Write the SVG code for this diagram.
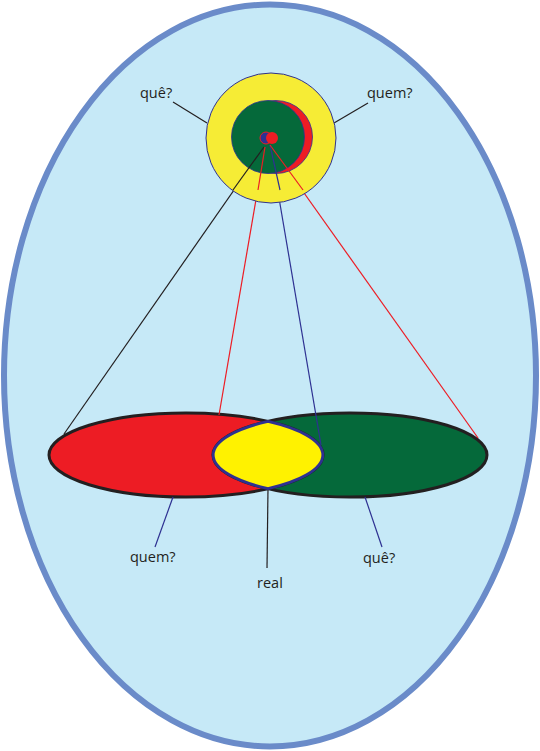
<svg xmlns="http://www.w3.org/2000/svg" width="540" height="751" viewBox="0 0 540 751">
<style>
.lbl{font-family:"Open Sans","Liberation Sans",sans-serif;font-size:14.5px;fill:#231f20}
.k{stroke:#231f20;stroke-width:1.2;fill:none}
.r{stroke:#ed1c24;stroke-width:1.2;fill:none}
.b{stroke:#2e3192;stroke-width:1.2;fill:none}
</style>
<rect width="540" height="751" fill="#ffffff"/>
<g id="background">
<ellipse cx="270" cy="375.5" rx="266" ry="371" fill="#c6e9f7" stroke="#6a8bc9" stroke-width="6"/>
</g>
<g id="venn">
<ellipse cx="186" cy="455" rx="137" ry="42" fill="#ed1c24"/>
<ellipse cx="350" cy="455" rx="137" ry="42" fill="#05693a"/>
<ellipse cx="186" cy="455" rx="137" ry="42" fill="none" stroke="#231f20" stroke-width="3"/>
<ellipse cx="350" cy="455" rx="137" ry="42" fill="none" stroke="#231f20" stroke-width="3"/>
</g>
<g id="connectors">
<line class="k" x1="173" y1="102" x2="207" y2="123"/>
<line class="k" x1="368" y1="103" x2="334" y2="123"/>
<line class="k" x1="264" y1="147" x2="64" y2="434"/>
<line class="r" x1="265" y1="147" x2="219" y2="415"/>
<line class="b" x1="270" y1="145" x2="321" y2="445"/>
<line class="r" x1="270" y1="145" x2="478" y2="438"/>
<line class="b" x1="173" y1="497" x2="155" y2="547"/>
<line class="k" x1="268" y1="488" x2="267" y2="568"/>
<line class="b" x1="365" y1="497" x2="382" y2="547"/>
</g>
<g id="top-circle">
<circle cx="271" cy="138" r="65" fill="#f6ec35" stroke="#2e3192" stroke-width="1"/>
<circle cx="276" cy="137" r="36.5" fill="#ed1c24" stroke="#2e3192" stroke-width="0.8"/>
<circle cx="268" cy="137" r="36.5" fill="#05693a" stroke="#2e3192" stroke-width="0.8"/>
<circle cx="266" cy="138" r="6" fill="#2e3192" stroke="#ed1c24" stroke-width="1"/>
<circle cx="272" cy="138" r="6" fill="#ed1c24"/>
<line class="k" x1="264" y1="147" x2="233" y2="190"/>
<line class="r" x1="265" y1="147" x2="258" y2="190"/>
<line class="b" x1="270" y1="145" x2="280" y2="190"/>
<line class="r" x1="270" y1="145" x2="303" y2="190"/>
</g>
<g id="lens">
<path d="M268 421.4 A137 42 0 0 1 268 488.6 A137 42 0 0 1 268 421.4 Z" fill="#fff200" stroke="#2e3192" stroke-width="2.8"/>
</g>
<g id="labels">
<text class="lbl" x="140" y="98">quê?</text>
<text class="lbl" x="367" y="98">quem?</text>
<text class="lbl" x="130" y="562">quem?</text>
<text class="lbl" x="257" y="588">real</text>
<text class="lbl" x="363" y="563">quê?</text>
</g>
</svg>
